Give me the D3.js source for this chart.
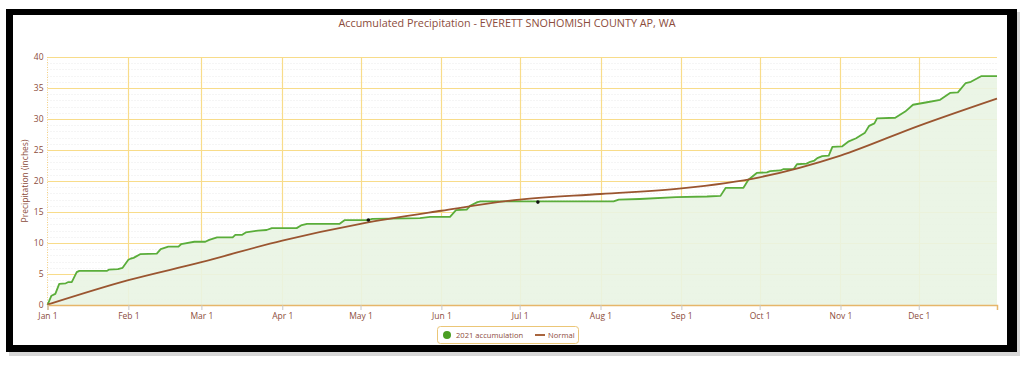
<!DOCTYPE html>
<html>
<head>
<meta charset="utf-8">
<script src="https://cdn.jsdelivr.net/npm/d3@7"></script>
<style>
  html, body { margin: 0; padding: 0; background: #fff; }
  svg { display: block; }
  text { font-family: "Open Sans", sans-serif; }
</style>
</head>
<body>
<svg id="chart" width="1024" height="365"></svg>
<script>
// 2021 accumulation (day of year offset from Jan 1, inches)
const accumDays = [0, 1.5, 3, 4.5, 7, 8, 9.3, 11.2, 12.2, 22.7, 23.5, 27, 28.8, 31, 32, 33, 35.5, 41.9, 43.4, 46.3, 50.2, 51.2, 52.3, 56.3, 60.5, 62, 65, 71, 72, 74.5, 76, 80.7, 84, 86, 95.5, 97.5, 99.5, 112, 114, 121, 123, 124.5, 142.8, 146.7, 154.3, 156.6, 160.7, 162, 164.8, 166, 217, 219, 227, 241, 252.8, 258, 260, 266.8, 268.7, 271.9, 275.8, 277, 280.9, 282, 286, 287.3, 291, 292.4, 294, 295.1, 297, 299.5, 300.9, 304.7, 307.2, 310, 311.5, 313.4, 315, 317, 318, 325, 328.8, 331.8, 337.2, 342.2, 346, 349, 352, 354, 357.9, 364];
const accumValues = [0, 1.5, 1.8, 3.4, 3.5, 3.7, 3.7, 5.3, 5.5, 5.5, 5.7, 5.8, 6.0, 7.3, 7.5, 7.6, 8.2, 8.3, 9.0, 9.4, 9.4, 9.8, 9.9, 10.2, 10.2, 10.5, 10.9, 10.9, 11.3, 11.3, 11.7, 12.0, 12.1, 12.4, 12.4, 12.9, 13.1, 13.1, 13.7, 13.7, 13.7, 13.9, 14.0, 14.2, 14.2, 15.3, 15.4, 16.0, 16.6, 16.7, 16.7, 17.0, 17.1, 17.4, 17.5, 17.6, 18.9, 18.9, 20.2, 21.3, 21.4, 21.6, 21.7, 21.9, 21.9, 22.7, 22.8, 23.1, 23.3, 23.7, 24.0, 24.1, 25.5, 25.6, 26.4, 26.9, 27.3, 27.8, 28.9, 29.3, 30.1, 30.2, 31.2, 32.3, 32.7, 33.1, 34.2, 34.3, 35.8, 36.0, 36.9, 36.9];

// Normal accumulation at month starts
const normalDays = [0, 31, 59, 90, 120, 151, 181, 212, 243, 273, 304, 334, 364];
const normalValues = [0.05, 4.0, 6.9, 10.4, 13.1, 15.2, 17.0, 17.9, 18.8, 20.6, 24.1, 28.9, 33.3];

// marked points on the accumulation line
const markerDays = [123, 188];
const markerValues = [13.7, 16.6];

const monthLabels = ['Jan 1', 'Feb 1', 'Mar 1', 'Apr 1', 'May 1', 'Jun 1', 'Jul 1', 'Aug 1', 'Sep 1', 'Oct 1', 'Nov 1', 'Dec 1'];
const yTicks = [0, 5, 10, 15, 20, 25, 30, 35, 40];

const chartTitle = 'Accumulated Precipitation - EVERETT SNOHOMISH COUNTY AP, WA';
const yTitle = 'Precipitation (inches)';
const legendLabels = ['2021 accumulation', 'Normal'];

const start = new Date(2021, 0, 1);
const toDate = d => new Date(start.getTime() + d * 864e5);

const svg = d3.select('#chart');
const plot = { left: 47.5, right: 997, top: 57, bottom: 305 };

const textColor = '#8c4c3c';
const gridColor = '#f8dc8a';
const greenLine = '#5aad3a';
const brownLine = '#9a5530';

// frame
svg.append('rect').attr('x', 9).attr('y', 12).attr('width', 1011).attr('height', 344)
  .attr('fill', '#bdbdbd').attr('opacity', 0.6);
svg.append('rect').attr('x', 6).attr('y', 9).attr('width', 1011).attr('height', 343).attr('fill', '#000');
svg.append('rect').attr('x', 13).attr('y', 15).attr('width', 994).attr('height', 330).attr('fill', '#fff');

const x = d3.scaleTime().domain([start, toDate(364)]).range([plot.left, plot.right]);
const y = d3.scaleLinear().domain([0, 40]).range([plot.bottom, plot.top]);

const g = svg.append('g');

// minor dotted grid
g.append('g').selectAll('line')
  .data(d3.range(1, 40).filter(v => v % 5 !== 0))
  .join('line')
  .attr('x1', plot.left).attr('x2', plot.right)
  .attr('y1', d => Math.round(y(d)) + 0.5).attr('y2', d => Math.round(y(d)) + 0.5)
  .attr('stroke', '#ebebeb').attr('stroke-dasharray', '1,2');

// major horizontal grid
g.append('g').selectAll('line')
  .data(yTicks.slice(1))
  .join('line')
  .attr('x1', plot.left).attr('x2', plot.right)
  .attr('y1', d => Math.round(y(d)) + 0.5).attr('y2', d => Math.round(y(d)) + 0.5)
  .attr('stroke', gridColor).attr('stroke-width', 1.2);

const monthDates = d3.timeMonth.range(start, new Date(2022, 0, 1));

// vertical grid
g.append('g').selectAll('line')
  .data(monthDates.slice(1))
  .join('line')
  .attr('x1', d => Math.round(x(d)) + 0.5).attr('x2', d => Math.round(x(d)) + 0.5)
  .attr('y1', plot.top).attr('y2', plot.bottom)
  .attr('stroke', gridColor).attr('stroke-width', 1.2);

// y axis line (dotted, minor ticks)
g.append('line')
  .attr('x1', plot.left).attr('x2', plot.left).attr('y1', plot.top).attr('y2', plot.bottom)
  .attr('stroke', '#f3cf82').attr('stroke-dasharray', '1,1.5');

// area + lines
const accum = accumDays.map((d, i) => ({ date: toDate(d), value: accumValues[i] }));
const normal = normalDays.map((d, i) => ({ date: toDate(d), value: normalValues[i] }));

g.append('path')
  .datum(accum)
  .attr('fill', '#e9f4e3')
  .attr('fill-opacity', 0.9)
  .attr('d', d3.area().x(d => x(d.date)).y0(y(0)).y1(d => y(d.value)));

g.append('path')
  .datum(accum)
  .attr('fill', 'none')
  .attr('stroke', greenLine)
  .attr('stroke-width', 1.8)
  .attr('stroke-linejoin', 'round')
  .attr('d', d3.line().x(d => x(d.date)).y(d => y(d.value)));

g.append('path')
  .datum(normal)
  .attr('fill', 'none')
  .attr('stroke', brownLine)
  .attr('stroke-width', 1.8)
  .attr('d', d3.line().curve(d3.curveMonotoneX).x(d => x(d.date)).y(d => y(d.value)));

g.append('g').selectAll('circle')
  .data(markerDays.map((d, i) => ({ date: toDate(d), value: markerValues[i] })))
  .join('circle')
  .attr('cx', d => x(d.date)).attr('cy', d => y(d.value))
  .attr('r', 1.8).attr('fill', '#111');

// x axis
const axisX = d3.axisBottom(x)
  .tickValues(monthDates)
  .tickFormat((d, i) => monthLabels[i])
  .tickSize(5)
  .tickPadding(3);

const gx = g.append('g')
  .attr('transform', `translate(0,${plot.bottom})`)
  .call(axisX);
gx.select('.domain').attr('stroke', '#e6b66a').attr('stroke-width', 1.5);
gx.selectAll('.tick line').attr('stroke', '#c8c8c8');
gx.selectAll('.tick text').attr('fill', textColor).style('font-size', '8.5px').style('font-family', '"Open Sans", sans-serif');

// y axis labels
const axisY = d3.axisLeft(y).tickValues(yTicks).tickSize(0).tickPadding(4);
const gy = g.append('g').attr('transform', `translate(${plot.left},0)`).call(axisY);
gy.select('.domain').remove();
gy.selectAll('.tick text').attr('fill', textColor).style('font-size', '8.5px').style('font-family', '"Open Sans", sans-serif');

// y title
svg.append('text')
  .attr('transform', `translate(28,${(plot.top + plot.bottom) / 2}) rotate(-90)`)
  .attr('text-anchor', 'middle')
  .attr('fill', textColor)
  .style('font-size', '8.5px')
  .text(yTitle);

// title
svg.append('text')
  .attr('x', 507).attr('y', 27)
  .attr('text-anchor', 'middle')
  .attr('fill', textColor)
  .style('font-size', '10.8px')
  .text(chartTitle);

// legend
const lg = svg.append('g').attr('transform', 'translate(437,326)');
lg.append('rect').attr('x', 0.5).attr('y', 0.5).attr('width', 141).attr('height', 17).attr('rx', 3)
  .attr('fill', '#fff').attr('stroke', '#ebc677');
lg.append('circle').attr('cx', 10).attr('cy', 9).attr('r', 4).attr('fill', '#4a9e22');
lg.append('text').attr('x', 19).attr('y', 12).attr('fill', textColor).style('font-size', '7.6px').text(legendLabels[0]);
lg.append('line').attr('x1', 98).attr('x2', 108).attr('y1', 9).attr('y2', 9).attr('stroke', '#a8653e').attr('stroke-width', 2);
lg.append('text').attr('x', 111).attr('y', 12).attr('fill', textColor).style('font-size', '7.6px').text(legendLabels[1]);
</script>
</body>
</html>
